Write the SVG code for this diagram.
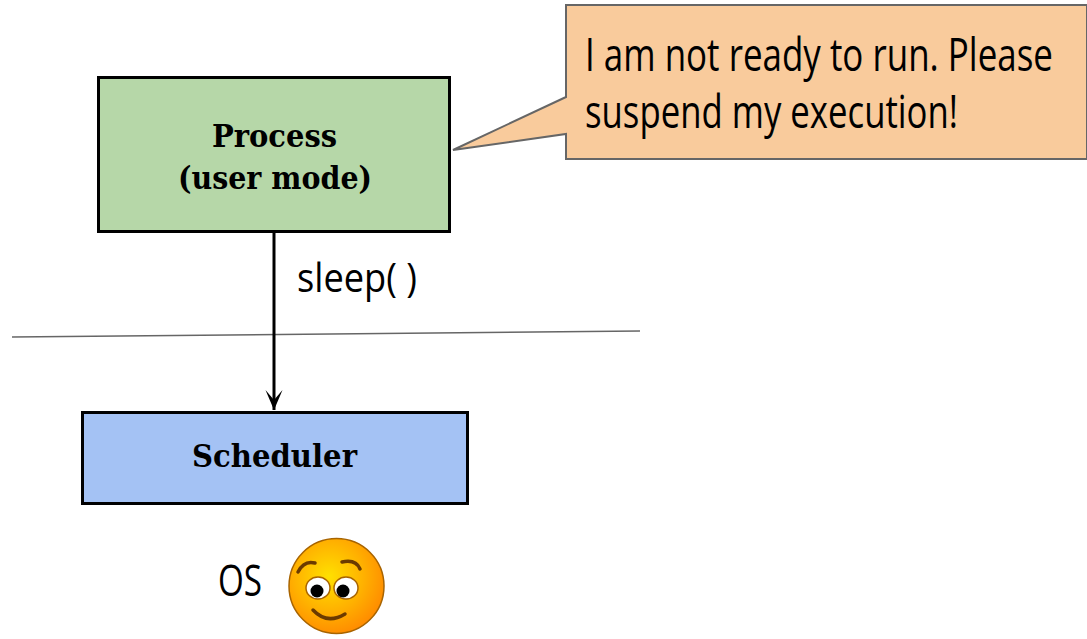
<svg xmlns="http://www.w3.org/2000/svg" width="1087" height="639" viewBox="0 0 1087 639">
<defs>
<style>
.box{stroke:#000;stroke-width:3}
.lbl{font-family:"DejaVu Serif",serif;font-weight:bold;font-size:32px;fill:#000;text-anchor:start}
.cond{font-family:"Open Sans","DejaVu Sans",sans-serif;fill:#000}
</style>
<marker id="arr" markerWidth="24" markerHeight="20" refX="22" refY="10" orient="auto" markerUnits="userSpaceOnUse" viewBox="0 0 24 20">
<path d="M22,10 L2,1.5 L12,10 L2,18.5 Z" fill="#000"/>
</marker>
<radialGradient id="face" cx="0.42" cy="0.4" r="0.62">
<stop offset="0" stop-color="#ffe000"/>
<stop offset="0.6" stop-color="#ffb000"/>
<stop offset="1" stop-color="#ff8c00"/>
</radialGradient>
</defs>
<rect width="1087" height="639" fill="#fff"/>
<line x1="12" y1="337" x2="640" y2="331" stroke="#666" stroke-width="1.5"/>
<g id="process">
<rect class="box" x="98.5" y="77.5" width="351" height="154" fill="#b6d7a8"/>
<text class="lbl" x="212" y="147" textLength="125" lengthAdjust="spacingAndGlyphs">Process</text>
<text class="lbl" x="178" y="189" textLength="194" lengthAdjust="spacingAndGlyphs">(user mode)</text>
</g>
<g id="scheduler">
<rect class="box" x="82.5" y="412.5" width="385" height="91" fill="#a4c2f4"/>
<text class="lbl" x="192" y="467" textLength="165" lengthAdjust="spacingAndGlyphs">Scheduler</text>
</g>
<g id="callout">
<path d="M566,5 H1087 V159 H566 V134 L453,150 L566,97 Z" fill="#f9cb9c" stroke="#666" stroke-width="2"/>
<text class="cond" x="585" y="71" font-size="37" transform="translate(0,-17.75) scale(1,1.25)" textLength="468" lengthAdjust="spacingAndGlyphs">I am not ready to run. Please</text>
<text class="cond" x="585" y="128" font-size="37" transform="translate(0,-32) scale(1,1.25)" textLength="373" lengthAdjust="spacingAndGlyphs">suspend my execution!</text>
</g>
<g id="connectors">
<line x1="274" y1="232" x2="274" y2="410" stroke="#000" stroke-width="3" marker-end="url(#arr)"/>
<text class="cond" x="297" y="292" font-size="40" textLength="120" lengthAdjust="spacingAndGlyphs">sleep( )</text>
</g>
<g id="os">
<text class="cond" x="218" y="596" font-size="44" textLength="44" lengthAdjust="spacingAndGlyphs">OS</text>
<circle cx="336.5" cy="586" r="47.5" fill="url(#face)" stroke="#a86400" stroke-width="1.5"/>
<ellipse cx="318" cy="588" rx="12" ry="11" fill="#fff" stroke="#a86400" stroke-width="1.5"/>
<ellipse cx="346" cy="588" rx="12" ry="11" fill="#fff" stroke="#a86400" stroke-width="1.5"/>
<circle cx="317" cy="591" r="6.5" fill="#000"/>
<circle cx="343" cy="591" r="6.5" fill="#000"/>
<path d="M298,572 Q304,560 315,563" fill="none" stroke="#6b3a00" stroke-width="3.5" stroke-linecap="round"/>
<path d="M342,562 Q356,559 360,569" fill="none" stroke="#6b3a00" stroke-width="3.5" stroke-linecap="round"/>
<path d="M313,610 Q327,625 345,614" fill="none" stroke="#6b3a00" stroke-width="3.5" stroke-linecap="round"/>
</g>
</svg>
